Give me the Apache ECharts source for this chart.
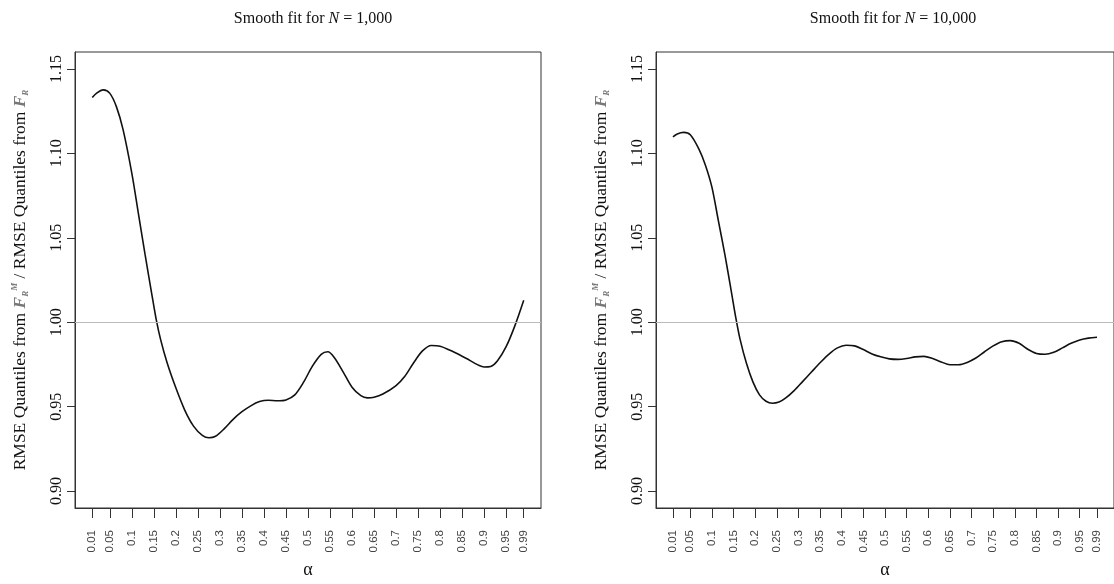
<!DOCTYPE html>
<html>
<head>
<meta charset="utf-8">
<title>Smooth fit</title>
<script src="https://cdn.jsdelivr.net/npm/echarts@6/dist/echarts.min.js"></script>
<style>
  body { margin: 0; background: #fff; }
  #chart { width: 1114px; height: 584px; }
</style>
</head>
<body>
<div id="chart"></div>
<script>
// alpha ticks shown under both panels
const tickValues = [0.01, 0.05, 0.1, 0.15, 0.2, 0.25, 0.3, 0.35, 0.4, 0.45, 0.5,
  0.55, 0.6, 0.65, 0.7, 0.75, 0.8, 0.85, 0.9, 0.95, 0.99];
const tickLabels = ['0.01', '0.05', '0.1', '0.15', '0.2', '0.25', '0.3', '0.35', '0.4', '0.45', '0.5',
  '0.55', '0.6', '0.65', '0.7', '0.75', '0.8', '0.85', '0.9', '0.95', '0.99'];
const yTicks = [0.90, 0.95, 1.00, 1.05, 1.10, 1.15];

// N = 1,000
const alphaN1000 = [0.01, 0.02, 0.035, 0.05, 0.065, 0.08, 0.10, 0.115, 0.13, 0.145, 0.155, 0.165,
  0.18, 0.20, 0.22, 0.24, 0.26, 0.275, 0.29, 0.31, 0.33, 0.35, 0.37, 0.39, 0.41, 0.43, 0.45,
  0.47, 0.49, 0.51, 0.53, 0.545, 0.56, 0.58, 0.60, 0.62, 0.635, 0.65, 0.67, 0.70, 0.72, 0.74,
  0.76, 0.78, 0.80, 0.83, 0.86, 0.88, 0.90, 0.915, 0.93, 0.95, 0.97, 0.99];
const ratioN1000 = [1.133, 1.1357, 1.1376, 1.1355, 1.1275, 1.114, 1.088, 1.064, 1.040, 1.017, 1.002, 0.990,
  0.976, 0.961, 0.948, 0.9385, 0.933, 0.9316, 0.9325, 0.937, 0.9425, 0.947, 0.9505, 0.953, 0.9538, 0.9535, 0.954,
  0.957, 0.9645, 0.974, 0.981, 0.9825, 0.979, 0.9705, 0.9615, 0.9565, 0.9552, 0.9556, 0.9575, 0.9625, 0.968, 0.976,
  0.983, 0.9862, 0.9858, 0.9825, 0.9785, 0.9755, 0.9735, 0.9738, 0.977, 0.9855, 0.998, 1.013];

// N = 10,000
const alphaN10000 = [0.01, 0.02, 0.035, 0.05, 0.07, 0.085, 0.10, 0.115, 0.13, 0.145, 0.155, 0.165,
  0.18, 0.195, 0.21, 0.225, 0.24, 0.255, 0.27, 0.29, 0.31, 0.33, 0.35, 0.37, 0.39, 0.41, 0.43,
  0.45, 0.47, 0.49, 0.51, 0.53, 0.55, 0.57, 0.59, 0.61, 0.63, 0.65, 0.67, 0.69, 0.71, 0.73,
  0.75, 0.77, 0.79, 0.81, 0.83, 0.85, 0.87, 0.89, 0.91, 0.93, 0.95, 0.97, 0.99];
const ratioN10000 = [1.1097, 1.1115, 1.1124, 1.111, 1.1025, 1.093, 1.080, 1.060, 1.040, 1.018, 1.003, 0.990,
  0.9755, 0.9645, 0.957, 0.9532, 0.952, 0.9527, 0.955, 0.9595, 0.965, 0.9705, 0.976, 0.981, 0.9848, 0.9864, 0.986,
  0.9838, 0.9812, 0.9795, 0.9783, 0.978, 0.9785, 0.9795, 0.9798, 0.9785, 0.9765, 0.9748, 0.9748, 0.9762, 0.9788, 0.9825,
  0.986, 0.9885, 0.9891, 0.9875, 0.984, 0.9815, 0.981, 0.9822, 0.9848, 0.9875, 0.9895, 0.9906, 0.9911];

const serif = '"Liberation Serif", "DejaVu Serif", serif';
const sans = '"Liberation Sans", Arial, sans-serif';

const chart = echarts.init(document.getElementById('chart'));

const yName = 'RMSE Quantiles from {f|F}{sub|R}{sup|M} / RMSE Quantiles from {f|F}{sub|R}';
const nameRich = {
  f: { fontFamily: serif, fontStyle: 'italic', fontWeight: 'bold', fontSize: 17.5, color: '#777' },
  sub: { fontFamily: serif, fontStyle: 'italic', fontWeight: 'bold', fontSize: 9, color: '#777', verticalAlign: 'bottom', lineHeight: 20 },
  sup: { fontFamily: serif, fontStyle: 'italic', fontWeight: 'bold', fontSize: 9, color: '#777', verticalAlign: 'top', lineHeight: 20 }
};

function makeX(idx) {
  return {
    type: 'value', gridIndex: idx, min: -0.0292, max: 1.0292,
    name: 'α', nameLocation: 'middle', nameGap: 53,
    nameTextStyle: { fontFamily: serif, fontSize: 18, color: '#111' },
    splitLine: { show: false },
    axisLine: { show: true, onZero: false, lineStyle: { color: '#333', width: 1 } },
    axisTick: { show: true, customValues: tickValues, length: 10, lineStyle: { color: '#333' } },
    axisLabel: {
      customValues: tickValues, rotate: 90, margin: 22,
      fontFamily: sans, fontSize: 11.5, color: '#444',
      formatter: v => tickLabels[tickValues.indexOf(v)] || ''
    }
  };
}

function makeY(idx) {
  return {
    type: 'value', gridIndex: idx, min: 0.89, max: 1.16,
    name: yName, nameLocation: 'middle', nameRotate: 90, nameGap: 45,
    nameTextStyle: { fontFamily: serif, fontSize: 17.5, color: '#111', rich: nameRich },
    splitLine: { show: false },
    axisLine: { show: true, onZero: false, lineStyle: { color: '#333', width: 1 } },
    axisTick: { show: true, customValues: yTicks, length: 8, lineStyle: { color: '#333' } },
    axisLabel: {
      customValues: yTicks, rotate: 90, margin: 10,
      fontFamily: serif, fontSize: 16, color: '#111',
      formatter: v => v.toFixed(2)
    }
  };
}

function makeSeries(idx, alphas, vals) {
  return {
    type: 'line', xAxisIndex: idx, yAxisIndex: idx,
    data: alphas.map((a, i) => [a, vals[i]]),
    smooth: 0.3, showSymbol: false, silent: true,
    lineStyle: { color: '#111', width: 1.6 },
    markLine: {
      silent: true, symbol: 'none', label: { show: false },
      lineStyle: { color: '#bbb', type: 'solid', width: 1 },
      data: [{ yAxis: 1 }]
    },
    z: 3
  };
}

chart.setOption({
  backgroundColor: '#fff',
  animation: false,
  title: [
    {
      text: 'Smooth fit for {i|N} = 1,000', left: 308, top: 6, textAlign: 'center',
      textStyle: { fontFamily: serif, fontSize: 16, fontWeight: 'normal', color: '#111',
        rich: { i: { fontFamily: serif, fontSize: 16, fontStyle: 'italic', color: '#111' } } }
    },
    {
      text: 'Smooth fit for {i|N} = 10,000', left: 888, top: 6, textAlign: 'center',
      textStyle: { fontFamily: serif, fontSize: 16, fontWeight: 'normal', color: '#111',
        rich: { i: { fontFamily: serif, fontSize: 16, fontStyle: 'italic', color: '#111' } } }
    }
  ],
  grid: [
    { left: 75, right: 573, top: 52, bottom: 68, show: true, borderColor: '#333', borderWidth: 1 },
    { left: 656, right: -7, top: 52, bottom: 68, show: true, borderColor: '#333', borderWidth: 1 }
  ],
  xAxis: [makeX(0), makeX(1)],
  yAxis: [makeY(0), makeY(1)],
  series: [
    makeSeries(0, alphaN1000, ratioN1000),
    makeSeries(1, alphaN10000, ratioN10000)
  ]
});
</script>
</body>
</html>
